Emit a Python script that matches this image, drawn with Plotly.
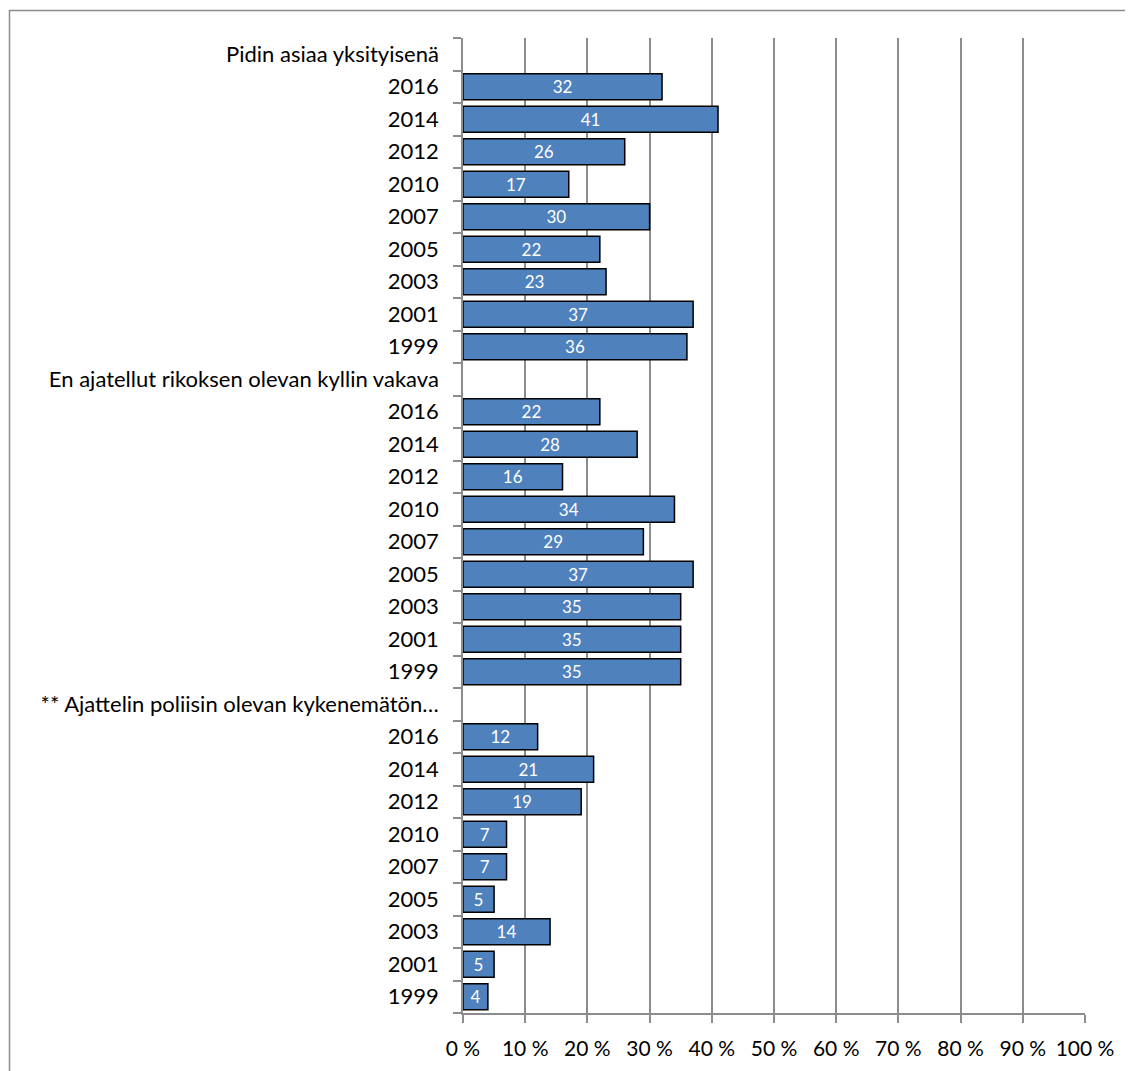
import plotly.graph_objects as go

groups = [
    "Pidin asiaa yksityisenä",
    "En ajatellut rikoksen olevan kyllin vakava",
    "** Ajattelin poliisin olevan kykenemätön…",
]
years = ["2016", "2014", "2012", "2010", "2007", "2005", "2003", "2001", "1999"]
values_private = [32, 41, 26, 17, 30, 22, 23, 37, 36]
values_not_serious = [22, 28, 16, 34, 29, 37, 35, 35, 35]
values_police = [12, 21, 19, 7, 7, 5, 14, 5, 4]
x_tick_vals = [0, 10, 20, 30, 40, 50, 60, 70, 80, 90, 100]
x_tick_text = ["0 %", "10 %", "20 %", "30 %", "40 %", "50 %", "60 %", "70 %", "80 %", "90 %", "100 %"]

labels = []
ys = []
xs = []
pos = 0
tickvals = []
for g, vals in zip(groups, [values_private, values_not_serious, values_police]):
    labels.append(g)
    tickvals.append(pos)
    pos += 1
    for yr, v in zip(years, vals):
        labels.append(yr)
        tickvals.append(pos)
        ys.append(pos)
        xs.append(v)
        pos += 1

# page body has an 8px margin; figure sized/offset accordingly
OFF = 8
W = 1133 - OFF
H = 1071 - OFF
L = 463 - OFF
T = 38 - OFF
R = W - (1085 - OFF)
B = H - (1013 - OFF)
PW = 1085 - 463
PH = 1013 - 38

fig = go.Figure()
fig.add_trace(go.Bar(
    x=xs, y=ys, orientation="h", width=0.8,
    marker=dict(color="#4F81BD", line=dict(color="#000000", width=1.5)),
    text=[str(v) for v in xs], textposition="inside", insidetextanchor="middle",
    textangle=0,
    textfont=dict(color="white", size=17, family="Lato"),
    constraintext="none", cliponaxis=False, hoverinfo="skip",
))

fig.update_layout(
    width=W, height=H,
    margin=dict(l=L, r=R, t=T, b=B),
    paper_bgcolor="white", plot_bgcolor="white",
    showlegend=False,
    font=dict(family="Lato", size=22, color="black"),
)
fig.update_xaxes(
    range=[0, 100], tickvals=x_tick_vals, ticktext=x_tick_text,
    showgrid=True, gridcolor="#8c8c8c", gridwidth=1.5,
    showline=True, linecolor="#8c8c8c", linewidth=1.5,
    ticks="outside", ticklen=8, tickcolor="#8c8c8c", tickwidth=1.5,
    tickfont=dict(size=21, family="Lato"), ticklabelstandoff=8,
    zeroline=False, fixedrange=True,
)
fig.update_yaxes(
    range=[pos - 0.5, -0.5], tickvals=tickvals, ticktext=labels,
    ticks="", showgrid=False, zeroline=False,
    showline=True, linecolor="#8c8c8c", linewidth=1.5,
    minor=dict(ticks="outside", tick0=0.5, dtick=1, ticklen=8, tickcolor="#8c8c8c", tickwidth=1.5),
    tickfont=dict(size=22, family="Lato"), ticklabelstandoff=18, fixedrange=True,
)
# outer chart border (figure starts at page x=8, so left edge placed just inside)
fig.add_shape(type="rect", xref="paper", yref="paper",
              x0=(1.5 - L) / PW, x1=(1145 - 463) / PW,
              y0=-0.2, y1=(1013 - 10.5) / PH,
              line=dict(color="#8c8c8c", width=1.5), fillcolor="rgba(0,0,0,0)", layer="below")

fig.write_html("out.html")
